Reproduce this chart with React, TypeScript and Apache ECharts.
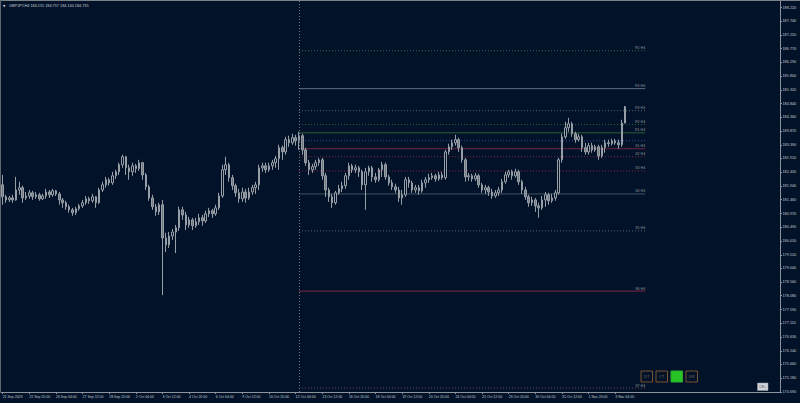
import React, { useEffect, useRef } from 'react';
import * as echarts from 'echarts';

const BG = '#011229';

const symbolTitle = 'GBPJPY,H4 184.155 184.757 184.140 184.735';

const timeLabels = ['21 Sep 2023', '22 Sep 20:00', '26 Sep 04:00', '27 Sep 12:00', '28 Sep 20:00', '2 Oct 04:00', '3 Oct 12:00', '4 Oct 20:00', '6 Oct 04:00', '9 Oct 12:00', '10 Oct 20:00', '12 Oct 04:00', '13 Oct 12:00', '16 Oct 20:00', '18 Oct 04:00', '19 Oct 12:00', '20 Oct 20:00', '24 Oct 04:00', '25 Oct 12:00', '26 Oct 20:00', '30 Oct 04:00', '31 Oct 12:00', '1 Nov 20:00', '3 Nov 04:00'];

const priceTickLabels = ['174.690', '175.180', '175.660', '176.140', '176.630', '177.110', '177.590', '178.080', '178.560', '179.040', '179.520', '180.010', '180.490', '180.970', '181.460', '181.940', '182.430', '182.910', '183.390', '183.870', '184.360', '184.840', '185.320', '185.800', '186.290', '186.770', '187.250', '187.740', '188.220'];

const priceMin = 174.69;
const priceMax = 188.45;

const firstOpen = 181.98;

const closes = [
  181.56, 181.45, 181.52, 181.45, 181.80, 181.88, 181.52, 181.59, 181.70, 181.56,
  181.63, 181.49, 181.59, 181.73, 181.63, 181.77, 181.66, 181.45, 181.35, 181.21,
  181.10, 181.00, 181.14, 181.24, 181.35, 181.49, 181.42, 181.56, 181.35, 181.80,
  181.98, 182.16, 182.05, 182.30, 182.44, 182.69, 182.97, 182.58, 182.44, 182.65,
  182.55, 182.76, 182.33, 181.91, 181.52, 181.21, 181.03, 181.28, 180.11, 179.87,
  180.18, 180.32, 180.47, 181.10, 180.92, 180.57, 180.75, 180.54, 180.68, 180.82,
  180.71, 180.96, 181.07, 180.96, 181.17, 181.59, 182.51, 182.69, 182.23, 181.95,
  181.70, 181.49, 181.73, 181.52, 181.73, 181.88, 181.98, 182.58, 182.65, 182.51,
  182.65, 182.76, 182.90, 183.29, 183.14, 183.57, 183.46, 183.64, 183.53, 183.71,
  183.21, 182.76, 182.51, 182.62, 182.76, 182.86, 182.30, 181.80, 181.56, 181.35,
  181.70, 181.84, 181.95, 182.30, 182.65, 182.51, 182.58, 182.44, 181.98, 182.44,
  182.58, 182.26, 182.16, 182.51, 182.69, 182.26, 182.05, 181.91, 181.80, 181.52,
  181.63, 182.16, 182.05, 181.80, 181.88, 181.77, 182.05, 182.16, 182.23, 182.30,
  182.19, 182.33, 182.23, 183.14, 183.32, 183.46, 183.57, 183.29, 182.86, 182.26,
  182.30, 182.19, 182.30, 181.98, 181.80, 181.88, 181.73, 181.59, 181.70, 181.80,
  182.09, 182.33, 182.44, 182.30, 182.44, 182.09, 181.80, 181.56, 181.35, 181.45,
  181.24, 181.17, 181.45, 181.63, 181.42, 181.52, 181.70, 182.86, 183.67, 183.99,
  184.13, 183.78, 183.57, 183.67, 183.29, 183.14, 183.36, 183.21, 183.32, 183.00,
  183.29, 183.46, 183.43, 183.53, 183.46, 183.39, 184.155, 184.735,
];

const lows = [
  181.28, 181.35, 181.38, 181.35, 181.42, 181.63, 181.35, 181.45, 181.49, 181.45,
  181.49, 181.42, 181.45, 181.49, 181.52, 181.56, 181.59, 181.28, 181.17, 181.10,
  181.00, 180.89, 180.92, 181.07, 181.17, 181.28, 181.31, 181.35, 181.17, 181.31,
  181.73, 181.88, 181.95, 181.98, 182.19, 182.33, 182.58, 182.33, 182.16, 182.30,
  182.40, 182.47, 182.16, 181.80, 181.42, 181.10, 180.89, 180.92, 178.10, 179.62,
  179.76, 180.04, 179.58, 180.36, 180.75, 180.39, 180.47, 180.39, 180.47, 180.57,
  180.54, 180.64, 180.85, 180.82, 180.89, 181.10, 181.52, 182.33, 182.09, 181.80,
  181.56, 181.35, 181.38, 181.35, 181.45, 181.63, 181.66, 181.80, 182.44, 182.40,
  182.44, 182.51, 182.58, 182.51, 182.86, 183.04, 183.32, 183.39, 183.36, 183.21,
  183.04, 182.65, 182.33, 182.40, 182.51, 182.65, 182.16, 181.56, 181.38, 181.17,
  181.28, 181.63, 181.73, 181.84, 182.16, 182.40, 182.40, 182.26, 181.80, 181.10,
  182.30, 182.09, 182.05, 182.09, 182.26, 182.16, 181.95, 181.80, 181.70, 181.38,
  181.28, 181.56, 181.88, 181.70, 181.70, 181.63, 181.70, 181.88, 182.05, 182.16,
  182.09, 182.12, 182.16, 182.16, 183.04, 183.21, 183.36, 183.14, 182.76, 182.09,
  182.12, 182.09, 182.12, 181.88, 181.70, 181.66, 181.59, 181.49, 181.52, 181.59,
  181.70, 182.02, 182.23, 182.16, 182.23, 181.98, 181.66, 181.45, 181.21, 181.24,
  181.03, 180.82, 181.10, 181.21, 181.28, 181.35, 181.42, 181.63, 182.76, 183.60,
  183.85, 183.67, 183.46, 183.50, 183.14, 183.04, 183.04, 183.11, 183.14, 182.86,
  182.93, 183.11, 183.32, 183.36, 183.39, 183.25, 183.32, 184.14,
];

const highs = [
  182.33, 181.63, 181.59, 181.63, 182.26, 182.09, 181.95, 181.73, 181.80, 181.77,
  181.73, 181.70, 181.66, 181.84, 181.80, 181.84, 181.80, 181.73, 181.52, 181.42,
  181.28, 181.17, 181.21, 181.31, 181.45, 181.59, 181.56, 181.66, 181.59, 181.88,
  182.09, 182.26, 182.23, 182.44, 182.51, 182.76, 183.04, 183.00, 182.69, 182.76,
  182.72, 182.86, 182.79, 182.40, 181.98, 181.63, 181.31, 181.35, 181.45, 180.29,
  180.32, 180.43, 180.57, 181.21, 181.21, 181.03, 180.85, 180.82, 180.82, 180.96,
  180.92, 181.07, 181.17, 181.14, 181.28, 181.70, 182.69, 182.97, 182.76, 182.33,
  182.02, 181.84, 181.88, 181.84, 181.88, 181.98, 182.09, 182.69, 182.76, 182.76,
  182.76, 182.86, 183.00, 183.39, 183.36, 183.67, 183.71, 183.78, 183.74, 183.85,
  183.78, 183.29, 182.86, 182.72, 182.86, 182.93, 182.93, 182.40, 181.88, 181.66,
  181.77, 181.98, 182.09, 182.40, 182.76, 182.72, 182.69, 182.65, 182.51, 182.58,
  182.65, 182.65, 182.40, 182.58, 182.79, 182.76, 182.33, 182.16, 182.02, 181.91,
  181.80, 182.26, 182.26, 182.12, 181.98, 181.98, 182.16, 182.26, 182.37, 182.40,
  182.37, 182.44, 182.44, 183.21, 183.43, 183.57, 183.74, 183.64, 183.36, 182.93,
  182.40, 182.37, 182.40, 182.37, 182.05, 181.98, 181.95, 181.84, 181.80, 181.91,
  182.19, 182.44, 182.51, 182.51, 182.55, 182.51, 182.16, 181.91, 181.63, 181.56,
  181.52, 181.35, 181.59, 181.73, 181.70, 181.66, 181.80, 182.93, 183.78, 184.20,
  184.34, 184.20, 183.85, 183.78, 183.74, 183.46, 183.46, 183.46, 183.39, 183.39,
  183.39, 183.57, 183.57, 183.60, 183.60, 183.57, 184.27, 184.757,
];

const levelNames = ['R5', 'R4', 'R3', 'R2', 'R1', 'PP', 'S1', 'S2', 'S3', 'S4', 'S5', 'S6', 'S7'];
const levelValues = [186.70, 185.365, 184.59, 184.10, 183.81, 183.53, 183.25, 182.97, 182.47, 181.66, 180.36, 178.24, 174.83];

const buttonLabels = ['DT', 'CT', '', 'DR'];

// presentation
const CATEGORY_COUNT = 234;
const PERIOD_START_BAR = 89;
const PERIOD_END_BAR = 193;
const DOT: number[] = [1, 2];
const levelLook: Record<string, { color: string; dotted: boolean; label: boolean }> = {
  R5: { color: '#3f6b48', dotted: true, label: true },
  R4: { color: '#63707e', dotted: false, label: true },
  R3: { color: '#4a6f78', dotted: true, label: true },
  R2: { color: '#2f6a3a', dotted: true, label: true },
  R1: { color: '#2b5e38', dotted: false, label: true },
  PP: { color: '#3a4ca8', dotted: true, label: false },
  S1: { color: '#6e2640', dotted: false, label: true },
  S2: { color: '#8b2c44', dotted: true, label: true },
  S3: { color: '#8b2c44', dotted: true, label: true },
  S4: { color: '#465262', dotted: false, label: true },
  S5: { color: '#5d6b78', dotted: true, label: true },
  S6: { color: '#7e2442', dotted: false, label: true },
  S7: { color: '#7d4a58', dotted: true, label: true },
};

export default function App() {
  const ref = useRef<HTMLDivElement>(null);

  useEffect(() => {
    if (!ref.current) return;
    const chart = echarts.init(ref.current, undefined, { renderer: 'svg' });

    const candles = closes.map((c, i) => [i === 0 ? firstOpen : closes[i - 1], c, lows[i], highs[i]]);
    const categories = Array.from({ length: CATEGORY_COUNT }, (_, i) => 'b' + i);
    const tickValues = priceTickLabels.map((s) => parseFloat(s));
    const lastClose = closes[closes.length - 1];

    const isLabelBar = (index: number) => index % 8 === 0 && index / 8 < timeLabels.length;

    const levelSeries: any[] = levelNames.map((name, k) => {
      const look = levelLook[name];
      const v = levelValues[k];
      return {
        type: 'line',
        name,
        data: [[PERIOD_START_BAR, v], [PERIOD_END_BAR, v]],
        symbol: 'none',
        silent: true,
        z: 1,
        lineStyle: { color: look.color, width: 1, type: look.dotted ? DOT : 'solid' },
        endLabel: {
          show: look.label,
          formatter: name + ' H4',
          fontSize: 3.6,
          color: '#8e949b',
          align: 'right',
          verticalAlign: 'bottom',
          distance: 0,
          offset: [0, -0.5],
          fontFamily: 'Liberation Sans',
        },
      };
    });

    const option: any = {
      animation: false,
      backgroundColor: BG,
      textStyle: { fontFamily: 'Liberation Sans' },
      grid: { left: 1, top: 1, right: 20, bottom: 11, containLabel: false, outerBoundsMode: 'none' },
      xAxis: {
        type: 'category',
        data: categories,
        boundaryGap: true,
        axisLine: { show: true, onZero: false, lineStyle: { color: '#8c939c', width: 1 } },
        axisTick: {
          show: true,
          alignWithLabel: true,
          length: 2,
          interval: (index: number) => isLabelBar(index),
          lineStyle: { color: '#8c939c' },
        },
        axisLabel: {
          show: true,
          interval: (index: number) => isLabelBar(index),
          formatter: (_v: string, index: number) => (isLabelBar(index) ? timeLabels[index / 8] : ''),
          fontSize: 3.5,
          color: '#c3c8ce',
          align: 'left',
          margin: 2.5,
          hideOverlap: false,
        },
        splitLine: { show: false },
      },
      yAxis: {
        type: 'value',
        position: 'right',
        min: priceMin,
        max: priceMax,
        axisLine: { show: true, onZero: false, lineStyle: { color: '#8c939c', width: 1 } },
        axisTick: { show: true, length: 2, customValues: tickValues, lineStyle: { color: '#8c939c' } },
        axisLabel: {
          show: true,
          customValues: tickValues,
          formatter: (v: number) => {
            let best = 0;
            tickValues.forEach((t, i) => {
              if (Math.abs(t - v) < Math.abs(tickValues[best] - v)) best = i;
            });
            return priceTickLabels[best];
          },
          fontSize: 3.8,
          color: '#c3c8ce',
          margin: 2.5,
        },
        splitLine: { show: false },
      },
      series: [
        ...levelSeries,
        {
          type: 'candlestick',
          data: candles,
          barWidth: 2,
          z: 3,
          itemStyle: {
            color: BG,
            color0: '#737a82',
            borderColor: '#989ea5',
            borderColor0: '#989ea5',
            borderWidth: 1,
          },
          markLine: {
            silent: true,
            symbol: ['none', 'none'],
            animation: false,
            data: [
              [
                { coord: [PERIOD_START_BAR, priceMin], lineStyle: { color: '#737a83', width: 1, type: DOT }, label: { show: false } },
                { coord: [PERIOD_START_BAR, priceMax] },
              ],
              {
                yAxis: lastClose,
                lineStyle: { opacity: 0 },
                label: {
                  show: true,
                  position: 'end',
                  formatter: lastClose.toFixed(3),
                  backgroundColor: '#ffffff',
                  color: '#000000',
                  fontSize: 3.8,
                  padding: [1, 2, 0.6, 1.5],
                  distance: 0.5,
                  fontFamily: 'Liberation Sans',
                },
              },
            ],
          },
        },
      ],
      graphic: [
        { type: 'rect', silent: true, shape: { x: 0, y: 0, width: 800, height: 1 }, style: { fill: '#7b8189' } },
        { type: 'rect', silent: true, shape: { x: 0, y: 0, width: 1, height: 392 }, style: { fill: '#5f666f' } },
        { type: 'text', silent: true, x: 3, y: 5.5, style: { text: '▼', fontSize: 3, fill: '#c8cdd2', verticalAlign: 'middle', fontFamily: 'DejaVu Sans' } },
        { type: 'text', silent: true, x: 9, y: 5.5, style: { text: symbolTitle, fontSize: 3.8, fill: '#c8cdd2', verticalAlign: 'middle', fontFamily: 'Liberation Sans' } },
        ...buttonLabels.map((lab, k) => ({
          type: 'group',
          silent: true,
          x: 641 + k * 15,
          y: 371,
          children: [
            {
              type: 'rect',
              shape: { x: 0, y: 0, width: 11.5, height: 11 },
              style: lab === '' ? { fill: '#27c427', stroke: '#2fa82f', lineWidth: 1 } : { fill: 'transparent', stroke: '#7a5430', lineWidth: 1 },
            },
            {
              type: 'text',
              x: 5.75,
              y: 5.5,
              style: { text: lab, fontSize: 4, fill: '#7c6a55', align: 'center', verticalAlign: 'middle', fontFamily: 'Liberation Sans' },
            },
          ],
        })),
        {
          type: 'group',
          silent: true,
          x: 757.5,
          y: 383,
          children: [
            { type: 'rect', shape: { x: 0, y: 0, width: 10.5, height: 7.5 }, style: { fill: '#cfd3d8', stroke: '#9aa0a8', lineWidth: 0.5 } },
            { type: 'text', x: 5.25, y: 3.9, style: { text: 'CF+', fontSize: 3.6, fill: '#3c4450', align: 'center', verticalAlign: 'middle', fontFamily: 'Liberation Sans' } },
          ],
        },
      ],
    };

    chart.setOption(option);
    return () => chart.dispose();
  }, []);

  return <div ref={ref} style={{ position: 'absolute', left: 0, top: 0, width: 800, height: 403 }} />;
}
